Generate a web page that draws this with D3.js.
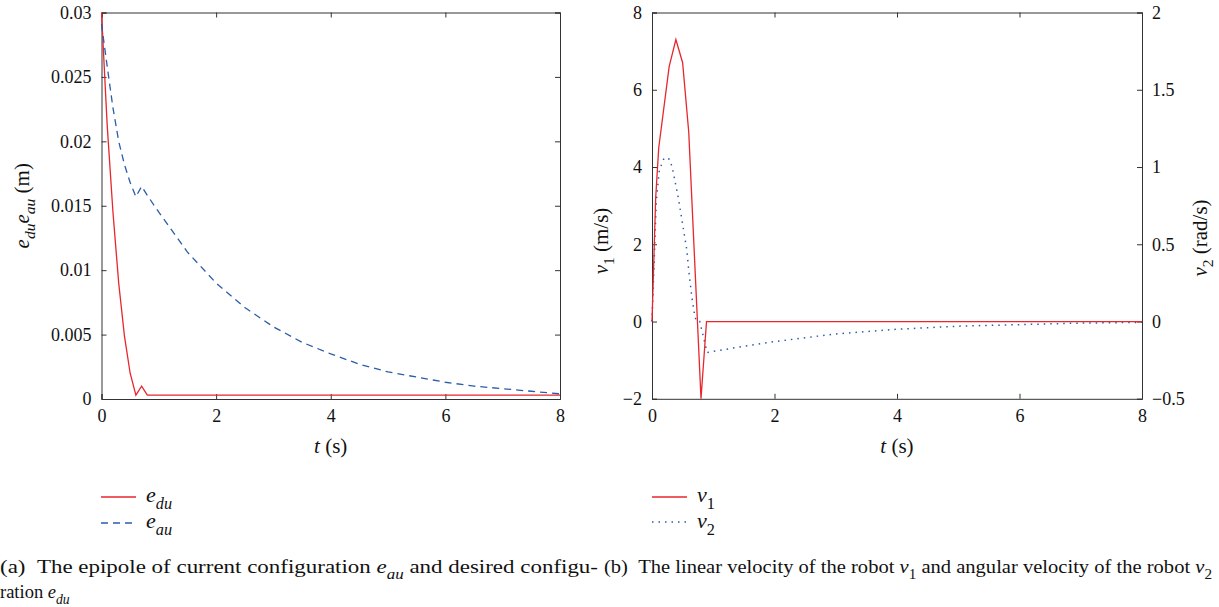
<!DOCTYPE html>
<html>
<head>
<meta charset="utf-8">
<script src="https://cdn.jsdelivr.net/npm/d3@7"></script>
<style>
  body { margin: 0; background: #fff; }
  svg { display: block; font-family: "Liberation Serif", "Times New Roman", serif; }
</style>
</head>
<body>
<svg id="fig" width="1219" height="607"></svg>
<script>
// ---- panel (a): epipoles ----
const eduT = [0, 0.1, 0.2, 0.3, 0.4, 0.5, 0.6, 0.7, 0.8, 1, 2, 3, 4, 5, 6, 7, 8];
const eduV = [0.030, 0.0212, 0.0145, 0.0090, 0.0049, 0.0020, 0.0003, 0.0010, 0.0003, 0.0003, 0.0003, 0.0003, 0.0003, 0.0003, 0.0003, 0.0003, 0.0003];
const eauT = [0, 0.1, 0.2, 0.3, 0.4, 0.5, 0.6, 0.7, 0.8, 1, 1.5, 2, 2.5, 3, 3.5, 4, 4.5, 5, 5.5, 6, 6.5, 7, 7.5, 8];
const eauV = [0.0291, 0.0258, 0.0226, 0.0200, 0.0182, 0.0168, 0.0157, 0.0165, 0.0158, 0.0145, 0.0114, 0.0090, 0.0071, 0.0056, 0.0044, 0.0035, 0.0027, 0.0021, 0.0017, 0.0013, 0.0010, 0.0008, 0.0006, 0.0004];
const aXTicks = [0, 2, 4, 6, 8];
const aYTicks = [0, 0.005, 0.01, 0.015, 0.02, 0.025, 0.03];
const aYLabels = ['0', '0.005', '0.01', '0.015', '0.02', '0.025', '0.03'];

// ---- panel (b): velocities ----
const v1T = [0, 0.06, 0.11, 0.28, 0.39, 0.5, 0.6, 0.8, 0.89, 8];
const v1V = [0, 3.2, 4.5, 6.6, 7.3, 6.7, 4.9, -2.0, 0, 0];
const v2T = [0, 0.07, 0.12, 0.16, 0.2, 0.29, 0.32, 0.35, 0.39, 0.43, 0.57, 0.6, 0.65, 0.7, 0.73, 0.78, 0.9, 1.5, 2, 3, 4, 5, 6, 7, 8];
const v2V = [0, 0.78, 0.98, 1.02, 1.06, 1.05, 1.01, 0.96, 0.88, 0.80, 0.46, 0.33, 0.16, 0.03, 0, 0, -0.2, -0.16, -0.13, -0.08, -0.05, -0.03, -0.02, -0.01, -0.005];
const bXTicks = [0, 2, 4, 6, 8];
const bY1Ticks = [-2, 0, 2, 4, 6, 8];
const bY1Labels = ['\u22122', '0', '2', '4', '6', '8'];
const bY2Ticks = [-0.5, 0, 0.5, 1, 1.5, 2];
const bY2Labels = ['\u22120.5', '0', '0.5', '1', '1.5', '2'];

const RED = '#e8262c';
const BLUE = '#2c5caa';
const AXIS = '#333';
const TICK_FONT = 18;
const LABEL_FONT = 21;

const svg = d3.select('#fig');

// text with italic / subscript pieces
function rich(g, x, y, parts, size, anchor) {
  const t = g.append('text')
    .attr('x', x).attr('y', y)
    .attr('font-size', size)
    .attr('fill', '#111')
    .attr('text-anchor', anchor || 'start');
  let shift = 0;
  parts.forEach((p) => {
    const s = p.sub ? size * 0.3 : 0;
    const ts = t.append('tspan').attr('dy', s - shift).text(p.t);
    if (p.sub) ts.attr('font-size', size * 0.74);
    if (p.it) ts.attr('font-style', 'italic');
    shift = s;
  });
  return t;
}

function styleAxis(g) {
  g.selectAll('.domain').attr('stroke', AXIS);
  g.selectAll('.tick line').attr('stroke', AXIS);
  g.selectAll('text').attr('font-size', TICK_FONT).attr('fill', '#111').attr('font-family', 'Liberation Serif, serif');
}

// ---------- panel (a) ----------
const xa = d3.scaleLinear().domain([0, 8]).range([101.5, 560]);
const ya = d3.scaleLinear().domain([0, 0.03]).range([399, 12.5]);

const ga = svg.append('g');
ga.append('g').attr('transform', `translate(0,${ya(0)})`)
  .call(d3.axisBottom(xa).tickValues(aXTicks).tickSize(-5).tickPadding(10))
  .call(styleAxis);
ga.append('g').attr('transform', `translate(0,${ya(0.03)})`)
  .call(d3.axisTop(xa).tickValues(aXTicks).tickSize(-5).tickFormat(''))
  .call(styleAxis);
ga.append('g').attr('transform', `translate(${xa(0)},0)`)
  .call(d3.axisLeft(ya).tickValues(aYTicks).tickSize(-5).tickPadding(10).tickFormat((d, i) => aYLabels[i]))
  .call(styleAxis);
ga.append('g').attr('transform', `translate(${xa(8)},0)`)
  .call(d3.axisRight(ya).tickValues(aYTicks).tickSize(-5).tickFormat(''))
  .call(styleAxis);

const lineA = (ts, vs) => d3.line().x((d, i) => xa(ts[i])).y((d) => ya(d))(vs);
ga.append('path').attr('d', lineA(eduT, eduV)).attr('fill', 'none').attr('stroke', RED).attr('stroke-width', 1.3);
ga.append('path').attr('d', lineA(eauT, eauV)).attr('fill', 'none').attr('stroke', BLUE).attr('stroke-width', 1.3).attr('stroke-dasharray', '7,5');

rich(ga, (xa(0) + xa(8)) / 2, 453, [{ t: 't', it: true }, { t: ' (s)' }], LABEL_FONT, 'middle');
rich(ga, 0, 0, [{ t: 'e', it: true }, { t: 'du', it: true, sub: true }, { t: 'e', it: true }, { t: 'au', it: true, sub: true }, { t: ' (m)' }], LABEL_FONT, 'middle')
  .attr('transform', `translate(29,${(ya(0) + ya(0.03)) / 2}) rotate(-90)`);

// legend (a)
ga.append('line').attr('x1', 101).attr('x2', 136).attr('y1', 497).attr('y2', 497).attr('stroke', RED).attr('stroke-width', 1.3);
ga.append('line').attr('x1', 101).attr('x2', 136).attr('y1', 523).attr('y2', 523).attr('stroke', BLUE).attr('stroke-width', 1.3).attr('stroke-dasharray', '7,5');
rich(ga, 146, 502, [{ t: 'e', it: true }, { t: 'du', it: true, sub: true }], 22);
rich(ga, 146, 528, [{ t: 'e', it: true }, { t: 'au', it: true, sub: true }], 22);

// ---------- panel (b) ----------
const xb = d3.scaleLinear().domain([0, 8]).range([652, 1142]);
const yb1 = d3.scaleLinear().domain([-2, 8]).range([398.8, 12.5]);
const yb2 = d3.scaleLinear().domain([-0.5, 2]).range([398.8, 12.5]);

const gb = svg.append('g');
gb.append('g').attr('transform', `translate(0,${yb1(-2)})`)
  .call(d3.axisBottom(xb).tickValues(bXTicks).tickSize(-5).tickPadding(10))
  .call(styleAxis);
gb.append('g').attr('transform', `translate(0,${yb1(8)})`)
  .call(d3.axisTop(xb).tickValues(bXTicks).tickSize(-5).tickFormat(''))
  .call(styleAxis);
gb.append('g').attr('transform', `translate(${xb(0)},0)`)
  .call(d3.axisLeft(yb1).tickValues(bY1Ticks).tickSize(-5).tickPadding(10).tickFormat((d, i) => bY1Labels[i]))
  .call(styleAxis);
gb.append('g').attr('transform', `translate(${xb(8)},0)`)
  .call(d3.axisRight(yb2).tickValues(bY2Ticks).tickSize(-5).tickPadding(10).tickFormat((d, i) => bY2Labels[i]))
  .call(styleAxis);

const v1Line = d3.line().x((d, i) => xb(v1T[i])).y((d) => yb1(d));
const v2Line = d3.line().x((d, i) => xb(v2T[i])).y((d) => yb2(d));
gb.append('path').attr('d', v2Line(v2V)).attr('fill', 'none').attr('stroke', BLUE).attr('stroke-width', 1.5).attr('stroke-dasharray', '1.5,5');
gb.append('path').attr('d', v1Line(v1V)).attr('fill', 'none').attr('stroke', RED).attr('stroke-width', 1.3);

rich(gb, (xb(0) + xb(8)) / 2, 453, [{ t: 't', it: true }, { t: ' (s)' }], LABEL_FONT, 'middle');
rich(gb, 0, 0, [{ t: '\u03bd', it: true }, { t: '1', sub: true }, { t: ' (m/s)' }], LABEL_FONT, 'middle')
  .attr('transform', `translate(608,241) rotate(-90)`);
rich(gb, 0, 0, [{ t: '\u03bd', it: true }, { t: '2', sub: true }, { t: ' (rad/s)' }], LABEL_FONT, 'middle')
  .attr('transform', `translate(1207,238) rotate(-90)`);

// legend (b)
gb.append('line').attr('x1', 652).attr('x2', 687).attr('y1', 497).attr('y2', 497).attr('stroke', RED).attr('stroke-width', 1.3);
gb.append('line').attr('x1', 652).attr('x2', 687).attr('y1', 522).attr('y2', 522).attr('stroke', BLUE).attr('stroke-width', 1.5).attr('stroke-dasharray', '1.5,5');
rich(gb, 697, 502, [{ t: '\u03bd', it: true }, { t: '1', sub: true }], 22);
rich(gb, 697, 528, [{ t: '\u03bd', it: true }, { t: '2', sub: true }], 22);

// ---------- captions ----------
rich(svg, 0, 573, [{ t: '(a)\u2002The epipole of current configuration ' }, { t: 'e', it: true }, { t: 'au', it: true, sub: true }, { t: ' and desired configu-' }], 18.5)
  .attr('textLength', 598).attr('lengthAdjust', 'spacingAndGlyphs');
rich(svg, 0, 598, [{ t: 'ration ' }, { t: 'e', it: true }, { t: 'du', it: true, sub: true }], 18.5);
rich(svg, 604, 573, [{ t: '(b)\u2002The linear velocity of the robot ' }, { t: '\u03bd', it: true }, { t: '1', sub: true }, { t: ' and angular velocity of the robot ' }, { t: '\u03bd', it: true }, { t: '2', sub: true }], 18.5)
  .attr('textLength', 608).attr('lengthAdjust', 'spacingAndGlyphs');
</script>
</body>
</html>
